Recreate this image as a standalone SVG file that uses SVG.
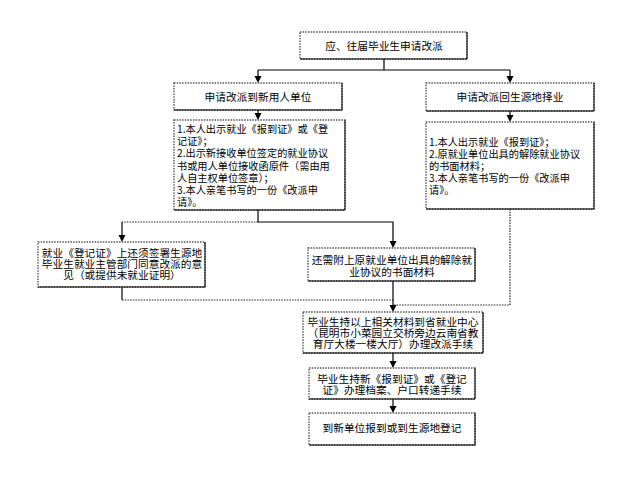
<svg xmlns="http://www.w3.org/2000/svg" width="634" height="481" viewBox="0 0 634 481">
<style>
.bo{fill:#fff;stroke:#555;stroke-width:1.4;stroke-dasharray:1.5 1.2}
.bi{fill:none;stroke:#000;stroke-width:1}
text{font-family:"Noto Sans CJK SC","Liberation Sans",sans-serif;fill:#000;font-size:10.7px}
.c{text-anchor:middle}
.d{font-size:10.2px}
.ln{fill:none;stroke:#000;stroke-width:1.2}
.dt{fill:none;stroke:#222;stroke-width:1.2;stroke-dasharray:1.5 1.2}
</style>
<defs>
<marker id="ah" markerWidth="8" markerHeight="8" refX="4" refY="7" orient="auto-start-reverse" markerUnits="userSpaceOnUse" viewBox="0 0 8 8">
<path d="M0.5,0 L7.5,0 L4,7 Z" fill="#000" transform="rotate(0)"/>
</marker>
</defs>
<rect width="634" height="481" fill="#fff"/>
<g id="connectors">
<path class="ln" d="M384,59 V70 M258,70 H510"/>
<path class="ln" d="M258,70 V76"/><path d="M254.5,76 h7 l-3.5,7 z"/>
<path class="ln" d="M510,70 V76"/><path d="M506.5,76 h7 l-3.5,7 z"/>
<path class="ln" d="M258,110 V113"/><path d="M254.5,113 h7 l-3.5,7 z"/>
<path class="ln" d="M510,111 V115"/><path d="M506.5,115 h7 l-3.5,7 z"/>
<path class="ln" d="M258,210 V222 H393 V241"/><path d="M389.5,241 h7 l-3.5,7 z"/>
<path class="dt" d="M258,222 H122"/>
<path class="ln" d="M122,222 V235"/><path d="M118.5,235 h7 l-3.5,7 z"/>
<path class="ln" d="M122,287 V300"/>
<path class="dt" d="M122,300 H393"/>
<path class="ln" d="M393,281 V305"/><path d="M389.5,305 h7 l-3.5,7 z"/>
<path class="dt" d="M510,209 V305 H393"/>
<path class="ln" d="M393,353 V361"/><path d="M389.5,361 h7 l-3.5,7 z"/>
<path class="ln" d="M393,399 V406"/><path d="M389.5,406 h7 l-3.5,7 z"/>
</g>
<g id="n0">
<rect class="bo" x="300" y="32" width="167" height="27"/>
<path class="bi" d="M467,32 V59 H300"/>
<text class="c" x="384" y="49.5">应、往届毕业生申请改派</text>
</g>
<g id="n1">
<rect class="bo" x="174" y="83" width="168" height="27"/>
<path class="bi" d="M342,83 V110 H174"/>
<text class="c" x="258" y="101">申请改派到新用人单位</text>
</g>
<g id="n2">
<rect class="bo" x="426" y="83" width="168" height="28"/>
<path class="bi" d="M594,83 V111 H426"/>
<text class="c" x="510" y="101">申请改派回生源地择业</text>
</g>
<g id="n3">
<rect class="bo" x="174" y="120" width="171" height="90"/>
<path class="bi" d="M345,120 V210 H174"/>
<text class="d" x="177" y="133">1.本人出示就业《报到证》或《登</text>
<text class="d" x="177" y="145.2">记证》；</text>
<text class="d" x="177" y="157.4">2.出示新接收单位签定的就业协议</text>
<text class="d" x="177" y="169.6">书或用人单位接收函原件（需由用</text>
<text class="d" x="177" y="181.8">人自主权单位签章）；</text>
<text class="d" x="177" y="194">3.本人亲笔书写的一份《改派申</text>
<text class="d" x="177" y="206.2">请》。</text>
</g>
<g id="n4">
<rect class="bo" x="426" y="122" width="168" height="87"/>
<path class="bi" d="M594,122 V209 H426"/>
<text class="d" x="429" y="146">1.本人出示就业《报到证》；</text>
<text class="d" x="429" y="158">2.原就业单位出具的解除就业协议</text>
<text class="d" x="429" y="170">的书面材料；</text>
<text class="d" x="429" y="182">3.本人亲笔书写的一份《改派申</text>
<text class="d" x="429" y="194">请》。</text>
</g>
<g id="n5">
<rect class="bo" x="38" y="242" width="167" height="45"/>
<path class="bi" d="M205,242 V287 H38"/>
<text class="c" x="122" y="257">就业《登记证》上还须签署生源地</text>
<text class="c" x="122" y="268">毕业生就业主管部门同意改派的意</text>
<text class="c" x="122" y="279">见（或提供未就业证明）</text>
</g>
<g id="n6">
<rect class="bo" x="308" y="248" width="167" height="33"/>
<path class="bi" d="M475,248 V281 H308"/>
<text class="c" x="392" y="264">还需附上原就业单位出具的解除就</text>
<text class="c" x="392" y="276">业协议的书面材料</text>
</g>
<g id="n7">
<rect class="bo" x="303" y="312" width="180" height="41"/>
<path class="bi" d="M483,312 V353 H303"/>
<text class="c" x="393" y="326">毕业生持以上相关材料到省就业中心</text>
<text class="c" x="393" y="337">（昆明市小菜园立交桥旁边云南省教</text>
<text class="c" x="393" y="348">育厅大楼一楼大厅）办理改派手续</text>
</g>
<g id="n8">
<rect class="bo" x="309" y="368" width="166" height="31"/>
<path class="bi" d="M475,368 V399 H309"/>
<text class="c" x="392" y="383">毕业生持新《报到证》或《登记</text>
<text class="c" x="392" y="394">证》办理档案、户口转递手续</text>
</g>
<g id="n9">
<rect class="bo" x="309" y="413" width="166" height="32"/>
<path class="bi" d="M475,413 V445 H309"/>
<text class="c" x="392" y="432">到新单位报到或到生源地登记</text>
</g>
</svg>
